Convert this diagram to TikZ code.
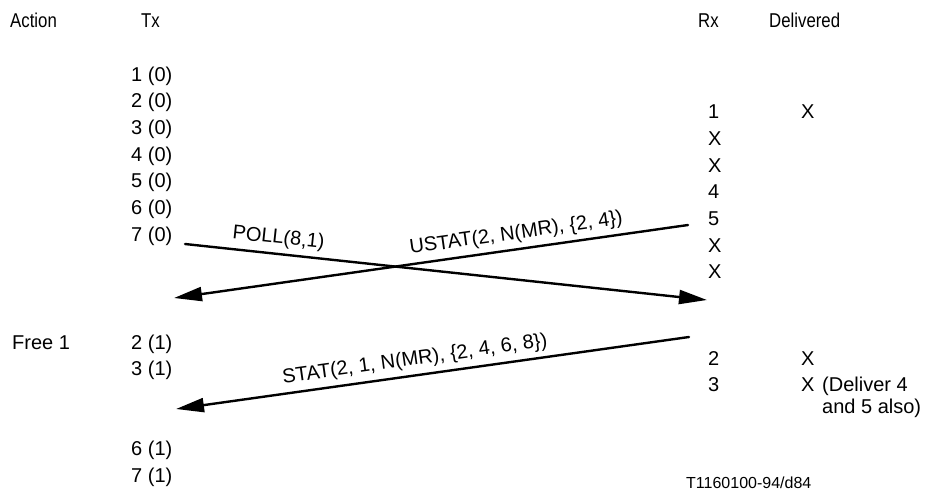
\documentclass[tikz,border=0pt]{standalone}
\usepackage{fontspec}
\setmainfont{Liberation Sans}
\newfontfamily\narrowfont[FakeStretch=0.84]{Liberation Sans}
\usetikzlibrary{arrows.meta}
\begin{document}
\begin{tikzpicture}[x=1pt,y=-1pt,
  lbl/.style={anchor=base west, inner sep=0pt, font=\fontsize{20}{24}\selectfont},
  hdr/.style={anchor=base west, inner sep=0pt, font=\narrowfont\fontsize{20}{24}\selectfont},
  small/.style={anchor=base west, inner sep=0pt, font=\fontsize{16}{19}\selectfont},
  msg/.style={line width=2.4pt, line cap=round},
  head/.style={-{Triangle[length=28pt,width=14pt]}},
  rhead/.style={{Triangle[length=28pt,width=14pt]}-},
  mlbl/.style={sloped, above, inner sep=0pt, yshift=5pt, font=\fontsize{20}{24}\selectfont}]
\useasboundingbox (0,0) rectangle (937,493);
% headers
\node[hdr] (hAct) at (10,27) {Action};
\node[hdr] (hTx) at (141,27) {Tx};
\node[hdr] (hRx) at (698,27) {Rx};
\node[hdr] (hDel) at (769,27) {Delivered};
% Tx column, first window
\foreach \i in {1,...,7} {
  \node[lbl] (tx\i) at (131,{81+(\i-1)*26.7}) {\i\ (0)};
}
% Rx column
\foreach \t [count=\k from 0] in {1,X,X,4,5,X,X} {
  \node[lbl] (rx\k) at (708,{118.7+\k*26.7}) {\t};
}
\node[lbl] (del1) at (801,118.7) {X};
% messages
\coordinate (pollA) at (185,244);
\coordinate (pollB) at (707,300);
\coordinate (ustA) at (688,225);
\coordinate (ustB) at (174,298);
\coordinate (statA) at (689,337);
\coordinate (statB) at (176,409);
\draw[msg,head] (pollA) -- node[mlbl,pos=0.176] (pollL) {POLL(8,1)} (pollB);
\draw[msg,rhead] (ustB) -- node[mlbl,pos=0.67] (ustL) {USTAT(2, N(MR), \{2, 4\})} (ustA);
\draw[msg,rhead] (statB) -- node[mlbl,pos=0.47] (statL) {STAT(2, 1, N(MR), \{2, 4, 6, 8\})} (statA);
% second part
\node[lbl] (free) at (12,349) {Free 1};
\node[lbl] (tx2b) at (131,349) {2 (1)};
\node[lbl] (tx3b) at (131,375.7) {3 (1)};
\node[lbl] (tx6b) at (131,455) {6 (1)};
\node[lbl] (tx7b) at (131,482) {7 (1)};
\node[lbl] (rx2b) at (708,365) {2};
\node[lbl] (rx3b) at (708,391.7) {3};
\node[lbl] (del2) at (801,365) {X};
\node[lbl] (del3) at (801,391.7) {X};
\node[lbl] (note1) at (822,391.7) {(Deliver 4};
\node[lbl] (note2) at (822,413.5) {and 5 also)};
\node[small] (ref) at (686,488) {T1160100-94/d84};
\end{tikzpicture}
\end{document}
